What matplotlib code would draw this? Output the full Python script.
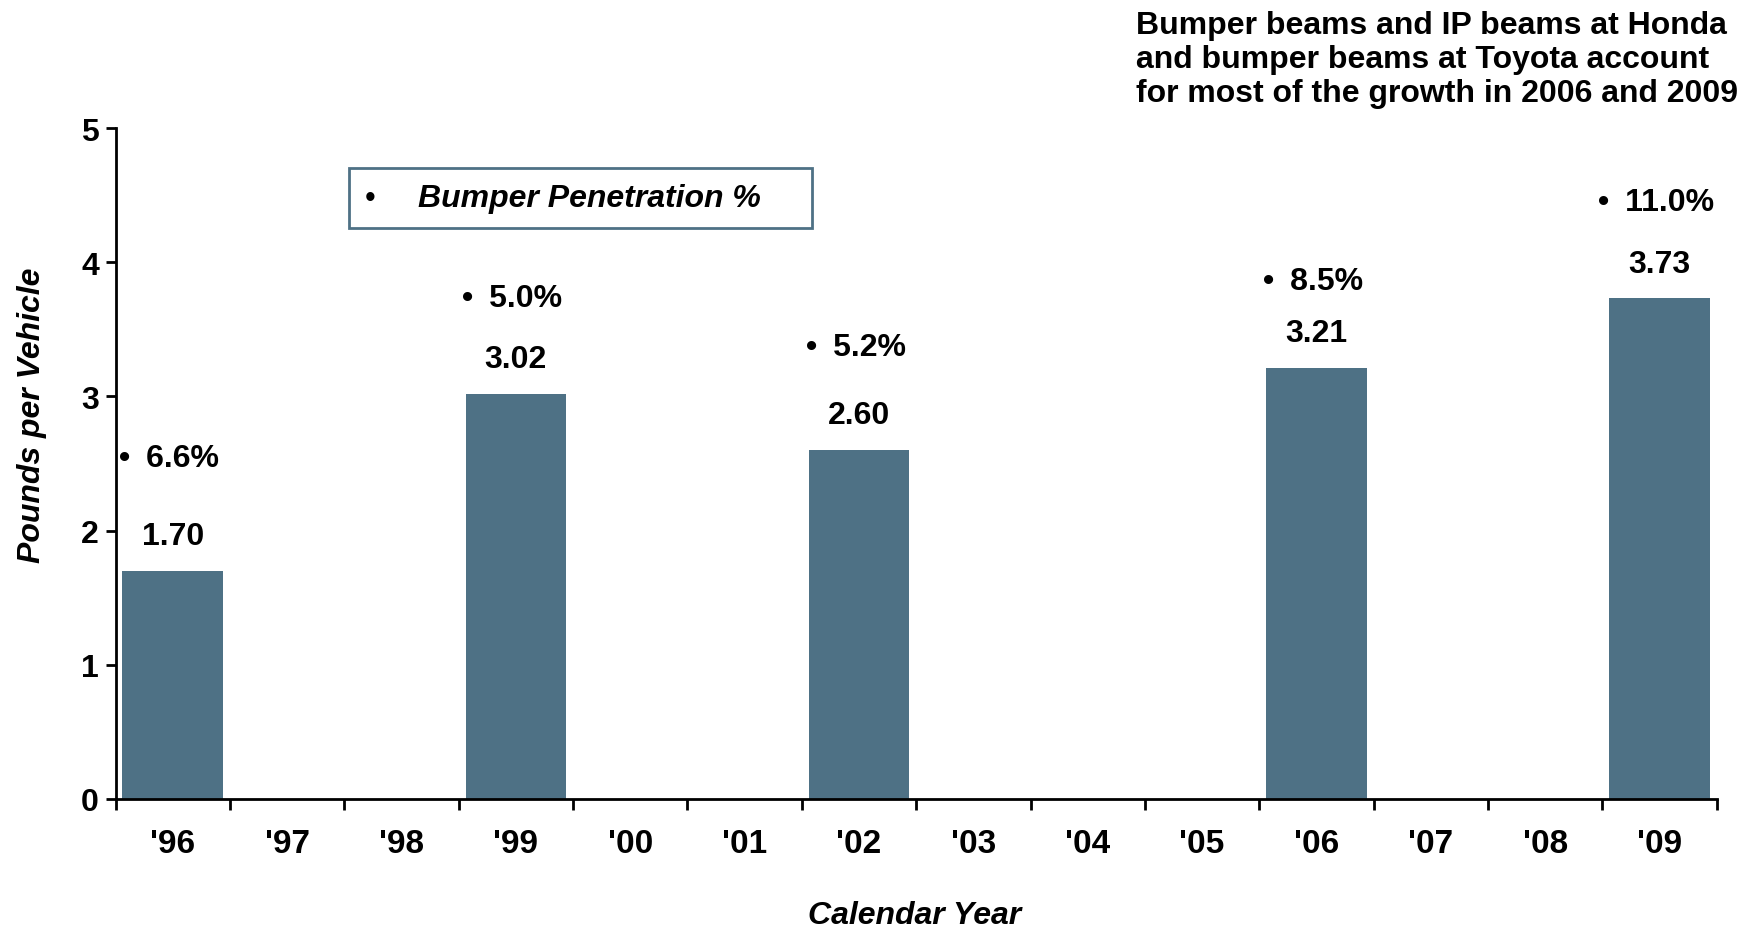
import numpy as np
import matplotlib
matplotlib.use('Agg')
import matplotlib.pyplot as plt
from matplotlib.patches import Rectangle

plt.rcParams['font.family'] = ['Liberation Sans', 'DejaVu Sans']

# --- data ---
years = ["'96", "'97", "'98", "'99", "'00", "'01", "'02", "'03", "'04", "'05", "'06", "'07", "'08", "'09"]
pounds = [1.70, 0, 0, 3.02, 0, 0, 2.60, 0, 0, 0, 3.21, 0, 0, 3.73]
penetration = ['6.6%', None, None, '5.0%', None, None, '5.2%', None, None, None, '8.5%', None, None, '11.0%']

# layout: heights (data units) where the penetration notes sit
pct_label_y = [2.54, None, None, 3.73, None, None, 3.37, None, None, None, 3.86, None, None, 4.45]

bar_color = '#4e7185'

fig = plt.figure(figsize=(17.59, 9.29), dpi=100)
ax = fig.add_axes([0.0657, 0.1389, 0.9103, 0.7222])

x = np.arange(len(years))
ax.bar(x, pounds, width=0.88, color=bar_color, zorder=2)

# value labels and penetration notes
for xi, v, p, py in zip(x, pounds, penetration, pct_label_y):
    if v > 0:
        ax.text(xi, v + 0.26, f'{v:.2f}', ha='center', va='center',
                fontsize=23, fontweight='bold')
    if p is not None:
        ax.text(xi - 0.03, py, '\u2022\u2002' + p, ha='center', va='center',
                fontsize=23, fontweight='bold')

ax.set_xlim(-0.5, len(years) - 0.5)
ax.set_ylim(0, 5)
ax.set_yticks(range(0, 6))
ax.tick_params(axis='y', direction='out', length=7, width=2, pad=5, labelsize=23)
for lbl in ax.get_yticklabels():
    lbl.set_fontweight('bold')

# ticks between categories, labels at centres
ax.set_xticks(np.arange(-0.5, len(years) + 0.5, 1))
ax.set_xticklabels([])
ax.tick_params(axis='x', which='major', direction='out', length=8, width=2)
ax.set_xticks(x, minor=True)
ax.set_xticklabels(years, minor=True, fontsize=24, fontweight='bold')
ax.tick_params(axis='x', which='minor', length=0, pad=21)

for s in ['top', 'right']:
    ax.spines[s].set_visible(False)
for s in ['left', 'bottom']:
    ax.spines[s].set_linewidth(2)

ax.set_ylabel('Pounds per Vehicle', fontsize=23, fontweight='bold', fontstyle='italic')
ax.yaxis.set_label_coords(-0.043, 0.574)
ax.set_xlabel('Calendar Year', fontsize=23, fontweight='bold', fontstyle='italic')
ax.xaxis.set_label_coords(0.499, -0.15)

# legend-like box
fig.patches.append(Rectangle((0.1984, 0.7535), 0.263, 0.0646, transform=fig.transFigure,
                             fill=False, edgecolor=bar_color, linewidth=2))
fig.text(0.2103, 0.7858, '\u2022', fontsize=22, va='center', ha='center')
fig.text(0.2376, 0.7858, 'Bumper Penetration %', fontsize=23, fontweight='bold',
         fontstyle='italic', va='center', ha='left')

fig.text(0.6458, 0.988,
         'Bumper beams and IP beams at Honda\nand bumper beams at Toyota account\nfor most of the growth in 2006 and 2009',
         fontsize=23, fontweight='bold', va='top', ha='left', linespacing=1.17)

fig.savefig('out.png', dpi=100)
